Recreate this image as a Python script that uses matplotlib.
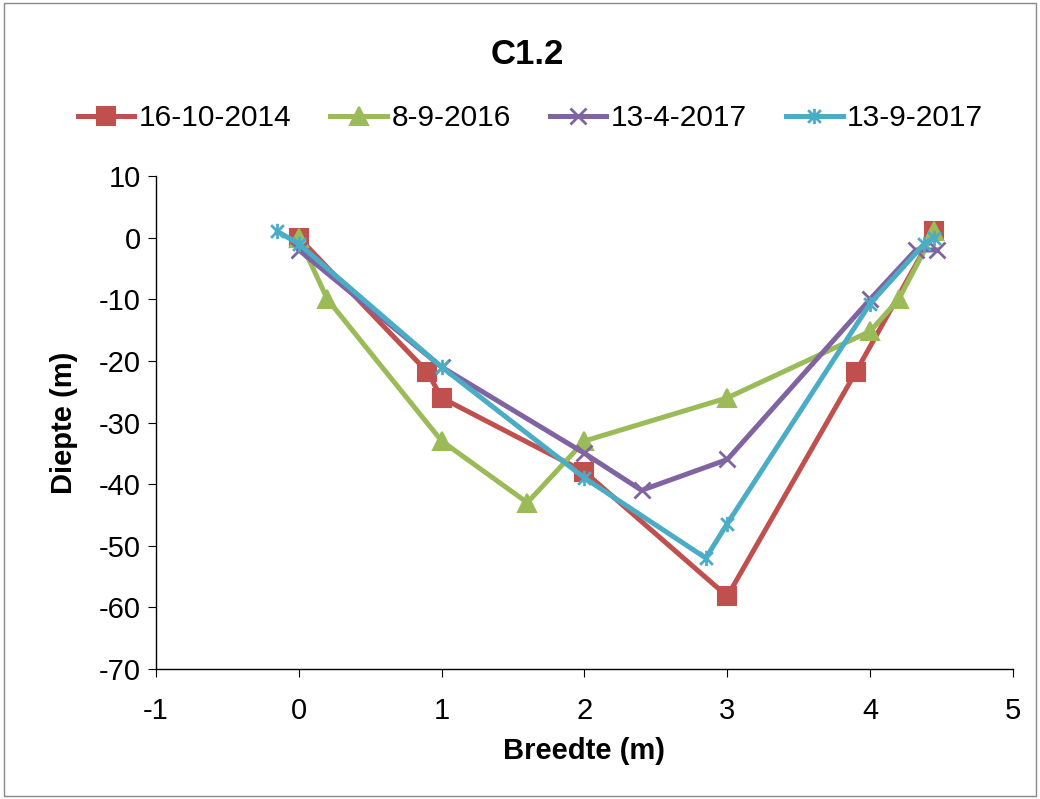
import numpy as np
import matplotlib.pyplot as plt
from matplotlib.path import Path
from matplotlib.patches import Rectangle

plt.rcParams['font.family'] = ['Liberation Sans', 'DejaVu Sans']
plt.rcParams['axes.unicode_minus'] = False

# data
labels = ['16-10-2014', '8-9-2016', '13-4-2017', '13-9-2017']
x_2014 = [0, 0.9, 1.0, 2.0, 3.0, 3.9, 4.45]
y_2014 = [0, -21.8, -26, -38, -58.2, -21.8, 1]
x_2016 = [0, 0.2, 1.0, 1.6, 2.0, 3.0, 4.0, 4.2, 4.45]
y_2016 = [0, -10, -33, -43, -33, -26, -15.2, -10, 1]
x_2017a = [0, 1.0, 2.0, 2.4, 3.0, 4.0, 4.32, 4.47]
y_2017a = [-2, -21, -35, -41, -36, -10, -2, -2]
x_2017b = [-0.15, 0, 1.0, 2.0, 2.85, 3.0, 4.0, 4.38, 4.45]
y_2017b = [1, -1, -21, -39, -52, -46.4, -10.7, -1, 0]

colors = ['#C0504D', '#9BBB59', '#8064A2', '#4BACC6']

# asterisk marker like Excel's star (x plus vertical line)
star = Path([(-1, -1), (1, 1), (-1, 1), (1, -1), (0, -1.2), (0, 1.2)],
            [Path.MOVETO, Path.LINETO, Path.MOVETO, Path.LINETO, Path.MOVETO, Path.LINETO])

fig = plt.figure(figsize=(10.4, 7.99), dpi=100)
ax = fig.add_axes([0.15, 0.1627, 0.824, 0.617])

series = [(x_2014, y_2014, 's', 13), (x_2016, y_2016, '^', 13),
          (x_2017a, y_2017a, 'x', 12), (x_2017b, y_2017b, star, 11)]
for (xs, ys, m, ms), c, lab in zip(series, colors, labels):
    ax.plot(xs, ys, color=c, linewidth=3.6, marker=m, markersize=ms,
            markeredgecolor=c, markeredgewidth=1.5 if m in ('s', '^') else 2.0,
            label=lab)

ax.set_xlim(-1, 5)
ax.set_ylim(-70, 10)
ax.set_xticks(range(-1, 6))
ax.set_yticks(range(-70, 11, 10))
ax.spines['top'].set_visible(False)
ax.spines['right'].set_visible(False)
for s in ('left', 'bottom'):
    ax.spines[s].set_color('#000000')
    ax.spines[s].set_linewidth(1.0)
ax.tick_params(direction='out', length=6, labelsize=21, pad=5)
ax.tick_params(axis='x', pad=14)
ax.set_xlabel('Breedte (m)', fontsize=21, fontweight='bold', labelpad=9)
ax.set_ylabel('Diepte (m)', fontsize=21, fontweight='bold', labelpad=15)

fig.text(0.507, 0.932, 'C1.2', ha='center', va='center', fontsize=25, fontweight='bold')
fig.legend(loc='center', bbox_to_anchor=(0.51, 0.852), ncol=4, frameon=False,
           fontsize=21.5, handlelength=1.9, columnspacing=1.3, handletextpad=0.15)

fig.patches.append(Rectangle((0.004, 0.004), 0.992, 0.992, transform=fig.transFigure,
                             fill=False, edgecolor='#888888', linewidth=1.0))

fig.savefig('out.png', dpi=100)
